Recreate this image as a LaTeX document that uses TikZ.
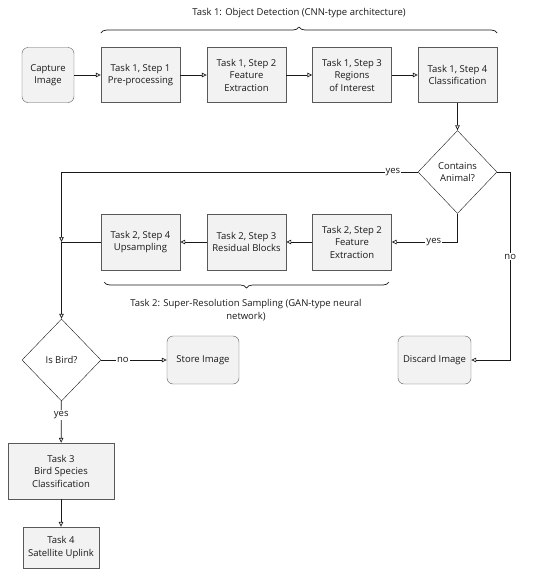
\documentclass[tikz,border=0pt]{standalone}
\usepackage{fontspec}
\setmainfont{Open Sans}
\usepackage{tikz}
\usetikzlibrary{shapes.geometric}
\usetikzlibrary{arrows.meta}
\usetikzlibrary{decorations.pathreplacing}

\begin{document}
\begin{tikzpicture}[
  x=1pt, y=-1pt,
  every node/.style={font=\fontsize{9.5}{12.5}\selectfont, text=black!90},
  stepbox/.style={rectangle, draw=black!65, fill=black!5, minimum width=79pt, minimum height=55pt, align=center, inner sep=1pt},
  endbox/.style={stepbox, rounded corners=6pt},
  decision/.style={diamond, draw=black!90, fill=white, minimum width=79pt, minimum height=83pt, inner sep=0pt, align=center},
  flow/.style={draw=black!90, line width=0.7pt, -{Triangle[open,length=5pt,width=4.5pt]}},
  line/.style={draw=black!90, line width=0.7pt},
  lbl/.style={fill=white, inner sep=1pt},
  brace/.style={decorate, decoration={brace, amplitude=6pt}, draw=black!90, line width=0.7pt}
]
\useasboundingbox (0,0) rectangle (550,576);

% task 1 row
\node[endbox, minimum width=52pt] (capture) at (48,75) {Capture\\Image};
\node[stepbox] (t1s1) at (140.5,75) {Task 1, Step 1\\Pre-processing};
\node[stepbox] (t1s2) at (246.5,75) {Task 1, Step 2\\Feature\\Extraction};
\node[stepbox] (t1s3) at (352,75) {Task 1, Step 3\\Regions\\of Interest};
\node[stepbox] (t1s4) at (457.5,75) {Task 1, Step 4\\Classification};
\node[decision] (animal) at (457.5,172) {Contains\\Animal?};

% task 2 row
\node[stepbox, minimum height=56pt] (t2s2) at (352,242) {Task 2, Step 2\\Feature\\Extraction};
\node[stepbox, minimum height=56pt] (t2s3) at (246.5,242) {Task 2, Step 3\\Residual Blocks};
\node[stepbox, minimum height=56pt] (t2s4) at (140.5,242) {Task 2, Step 4\\Upsampling};
\coordinate (join) at (61.5,242);

% decisions and ends
\node[decision, minimum height=82pt] (bird) at (61.5,360) {Is Bird?};
\node[endbox, minimum width=72pt, minimum height=48pt] (store) at (203,360) {Store Image};
\node[endbox, minimum width=73pt, minimum height=48pt] (discard) at (434.5,360) {Discard Image};
\node[stepbox, minimum width=106pt, minimum height=56pt] (t3) at (61,471) {Task 3\\Bird Species\\Classification};
\node[stepbox, minimum width=76pt, minimum height=41pt] (t4) at (61,547.5) {Task 4\\Satellite Uplink};

% braces
\draw[brace] (t1s1.west |- 0,33) -- (t1s4.east |- 0,33);
\node (task1) at (299,13) {Task 1: Object Detection (CNN-type architecture)};
\draw[brace] (389,282) -- (104,282);
\node[align=center] (task2) at (246,310) {Task 2: Super-Resolution Sampling (GAN-type neural\\network)};

% connectors
\draw[flow] (capture) -- (t1s1);
\draw[flow] (t1s1) -- (t1s2);
\draw[flow] (t1s2) -- (t1s3);
\draw[flow] (t1s3) -- (t1s4);
\draw[flow] (t1s4) -- (animal);
\draw[flow] (animal.west) -- node[lbl, pos=0.07] {yes} (61.5,172) -- (join);
\draw[flow] (animal.south) |- node[lbl, pos=0.68] {yes} (t2s2);
\draw[flow] (animal.east) -- ++(13,0) |- node[lbl, pos=0.225] {no} (discard);
\draw[flow] (t2s2) -- (t2s3);
\draw[flow] (t2s3) -- (t2s4);
\draw[line] (t2s4) -- (join);
\draw[flow] (join) -- (bird);
\draw[flow] (bird) -- node[lbl, pos=0.33] {no} (store);
\draw[flow] (bird) -- node[lbl, pos=0.33] {yes} (t3);
\draw[flow] (t3) -- (t4);
\end{tikzpicture}
\end{document}
